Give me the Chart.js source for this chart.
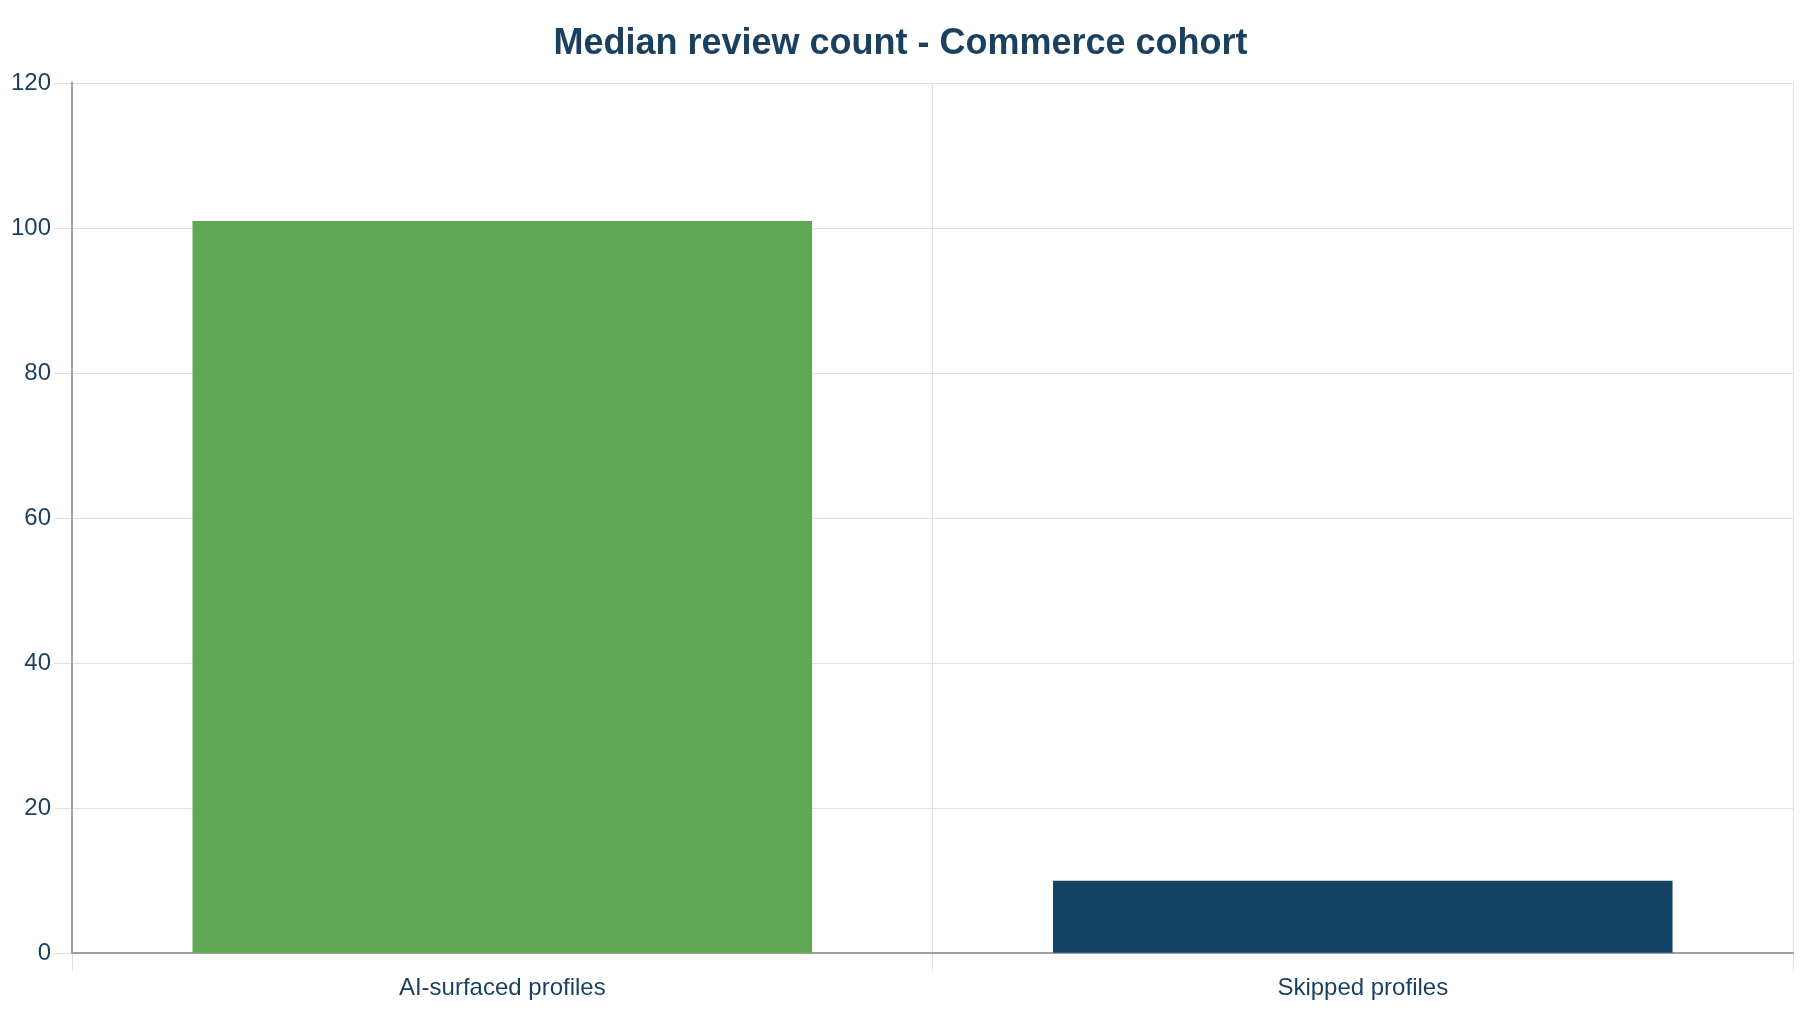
<!DOCTYPE html>
<html>
<head>
<meta charset="utf-8">
<title>Median review count - Commerce cohort</title>
<script src="https://cdn.jsdelivr.net/npm/chart.js@4/dist/chart.umd.min.js"></script>
<style>
    html, body { margin: 0; padding: 0; background: #ffffff; }
    #wrap { width: 1800px; height: 1012px; position: relative; }
</style>
</head>
<body>
<div id="wrap"><canvas id="reviewChart"></canvas></div>
<script>
// Chart data
const categories = ['AI-surfaced profiles', 'Skipped profiles'];
const medianReviews = [101, 10];
const barColors = ['#5ea853', '#154365'];
const yTicks = [0, 20, 40, 60, 80, 100, 120];

const textColor = '#1b3f5f';
const gridColor = '#e0e0e0';
const axisColor = '#a0a0a0';

document.addEventListener('DOMContentLoaded', () => {
    const ctx = document.getElementById('reviewChart').getContext('2d');

    new Chart(ctx, {
        type: 'bar',
        data: {
            labels: categories,
            datasets: [{
                label: 'Median review count',
                data: medianReviews,
                backgroundColor: barColors,
                borderWidth: 0
            }]
        },
        options: {
            responsive: true,
            maintainAspectRatio: false,
            animation: false,
            layout: {
                padding: { top: 12, left: 8, right: 7, bottom: 6 }
            },
            plugins: {
                legend: { display: false },
                tooltip: { enabled: false },
                title: {
                    display: true,
                    text: 'Median review count - Commerce cohort',
                    color: textColor,
                    font: { family: 'Liberation Sans, Arial, sans-serif', size: 36, weight: 'bold' },
                    padding: { top: 10, bottom: 18 }
                }
            },
            scales: {
                x: {
                    grid: {
                        color: gridColor,
                        tickLength: 18,
                        tickColor: gridColor
                    },
                    border: { color: axisColor, width: 2 },
                    ticks: {
                        color: textColor,
                        padding: 3,
                        font: { family: 'Liberation Sans, Arial, sans-serif', size: 24 }
                    }
                },
                y: {
                    min: 0,
                    max: 120,
                    afterBuildTicks: axis => {
                        axis.ticks = yTicks.map(v => ({ value: v }));
                    },
                    grid: {
                        color: gridColor,
                        tickLength: 18,
                        tickColor: gridColor
                    },
                    border: { color: axisColor, width: 2 },
                    ticks: {
                        color: textColor,
                        padding: 3,
                        font: { family: 'Liberation Sans, Arial, sans-serif', size: 24 }
                    }
                }
            }
        }
    });
});
</script>
</body>
</html>
